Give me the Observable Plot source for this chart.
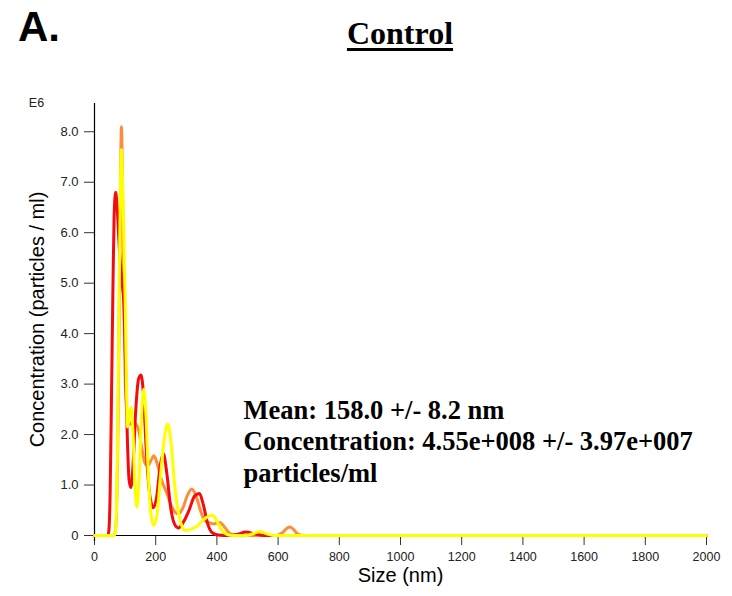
<!DOCTYPE html>
<html>
<head>
<meta charset="utf-8">
<script src="https://cdn.jsdelivr.net/npm/d3@7"></script>
<script src="https://cdn.jsdelivr.net/npm/@observablehq/plot@0.6"></script>
<style>
  html, body { margin: 0; padding: 0; background: #fff; }
  #wrap { width: 732px; height: 596px; position: relative; overflow: hidden; }
  #hdr { position: relative; height: 80px; }
  #panel { position: absolute; left: 18px; top: 7px; font: bold 40px/40px "Liberation Sans", Arial, sans-serif; color: #000; transform: scale(1.05, 1.08); transform-origin: left bottom; }
  #title { position: absolute; left: 0; width: 800px; top: 17px; text-align: center; font: bold 32px/32px "Liberation Serif", "Times New Roman", serif; color: #000; }
  #title span { text-decoration: underline; text-decoration-thickness: 3px; text-underline-offset: 4px; }
  svg { display: block; }
</style>
</head>
<body>
<div id="wrap">
  <div id="hdr">
    <div id="panel">A.</div>
    <div id="title"><span>Control</span></div>
  </div>
  <div id="chart"></div>
</div>
<script>
// ---- data (size in nm, concentration in E6 particles/ml) ----
const redSize   = [0, 44, 47, 51, 55, 60, 64, 69, 74, 82, 90, 96, 101, 107, 113, 119, 126, 134, 144, 152, 160, 170, 182, 193, 204, 214, 225, 236, 249, 262, 274, 289, 309, 327, 343, 356, 369, 384, 404, 434, 465, 495, 525, 555, 2000];
const redConc   = [0, 0, 0.1, 0.8, 2.5, 4.8, 6.3, 6.8, 6.5, 5.6, 5.0, 4.6, 3.5, 2.0, 1.1, 0.95, 1.4, 2.4, 3.1, 3.18, 2.8, 1.6, 0.75, 0.55, 0.8, 1.35, 1.62, 1.25, 0.55, 0.22, 0.15, 0.25, 0.5, 0.78, 0.83, 0.6, 0.25, 0.06, 0.01, 0, 0.02, 0.07, 0.03, 0, 0];

const orangeSize = [0, 64, 70, 76, 81, 85, 88, 91, 95, 100, 106, 114, 124, 134, 144, 154, 164, 174, 184, 194, 206, 219, 237, 254, 274, 289, 304, 318, 332, 346, 360, 372, 389, 410, 426, 439, 454, 474, 595, 615, 630, 639, 650, 665, 685, 2000];
const orangeConc = [0, 0, 0.2, 1.8, 4.5, 7.0, 8.1, 7.2, 5.0, 3.2, 2.4, 2.2, 2.25, 2.22, 2.1, 1.75, 1.45, 1.38, 1.48, 1.58, 1.4, 1.1, 0.83, 0.55, 0.43, 0.55, 0.8, 0.92, 0.78, 0.5, 0.3, 0.26, 0.23, 0.26, 0.16, 0.06, 0.01, 0, 0, 0.06, 0.15, 0.17, 0.12, 0.03, 0, 0];

const yellowSize = [0, 66, 70, 74, 78, 82, 85, 88, 92, 97, 101, 105, 108, 113, 120, 126, 132, 139, 146, 154, 161, 168, 176, 184, 193, 204, 216, 229, 239, 250, 262, 274, 286, 296, 314, 334, 354, 372, 387, 399, 414, 434, 454, 495, 520, 541, 560, 585, 2000];
const yellowConc = [0, 0, 0.2, 1.2, 3.2, 5.5, 7.0, 7.65, 7.0, 5.6, 4.4, 2.8, 2.15, 2.35, 2.54, 2.0, 1.0, 0.56, 1.2, 2.4, 2.9, 2.4, 1.2, 0.45, 0.2, 0.4, 1.2, 1.95, 2.21, 1.85, 1.0, 0.45, 0.18, 0.1, 0.12, 0.18, 0.3, 0.38, 0.4, 0.3, 0.12, 0.02, 0, 0, 0.04, 0.08, 0.04, 0, 0];

const xTicks = [0, 200, 400, 600, 800, 1000, 1200, 1400, 1600, 1800, 2000];
const yTicks = [0, 1, 2, 3, 4, 5, 6, 7, 8];
const yTickLabels = ["0", "1.0", "2.0", "3.0", "4.0", "5.0", "6.0", "7.0", "8.0"];

const xLabel = "Size (nm)";
const yLabel = "Concentration (particles / ml)";
const yUnit = "E6";
const statsLines = ["Mean: 158.0 +/- 8.2 nm", "Concentration: 4.55e+008 +/- 3.97e+007", "particles/ml"];

// ---- build tables ----
const toRows = (xs, ys) => xs.map((x, i) => ({size: x, conc: ys[i]}));
const red = toRows(redSize, redConc);
const orange = toRows(orangeSize, orangeConc);
const yellow = toRows(yellowSize, yellowConc);

const sans = "'Liberation Sans', Arial, sans-serif";

const chart = Plot.plot({
  width: 732,
  height: 516,
  marginLeft: 94,
  marginRight: 26,
  marginTop: 23,
  marginBottom: 61,
  style: {fontFamily: sans, background: "#fff", color: "#000"},
  x: {domain: [0, 2000]},
  y: {domain: [0, 8.56]},
  marks: [
    Plot.axisX({ticks: xTicks, tickSize: 10, tickPadding: 7, fontSize: 12.5, label: null, stroke: "#333", fill: "#222",
                tickFormat: d => String(d)}),
    Plot.axisY({ticks: yTicks, tickSize: 10, tickPadding: 6, fontSize: 13, label: null, stroke: "#333", fill: "#222",
                tickFormat: d => yTickLabels[yTicks.indexOf(d)]}),
    Plot.ruleX([0], {stroke: "#000", strokeWidth: 1.2, insetBottom: -6}),
    Plot.ruleY([0], {stroke: "#000", strokeWidth: 1}),
    Plot.line(orange, {x: "size", y: "conc", stroke: "#ff8c38", strokeWidth: 3, curve: "monotone-x"}),
    Plot.line(red, {x: "size", y: "conc", stroke: "#f20c0c", strokeWidth: 3, curve: "monotone-x"}),
    Plot.line(yellow, {x: "size", y: "conc", stroke: "#ffff00", strokeWidth: 3, curve: "monotone-x"}),
    Plot.text([statsLines.join("\n")], {frameAnchor: "top-left", textAnchor: "start", lineAnchor: "top",
               dx: 149, dy: 293, fontSize: 26.5, fontWeight: "bold", lineHeight: 1.19,
               fontFamily: "'Liberation Serif', 'Times New Roman', serif", fill: "#000"}),
    Plot.text([xLabel], {frameAnchor: "bottom", textAnchor: "middle", dy: 46, fontSize: 20, fill: "#000"}),
    Plot.text([yLabel], {frameAnchor: "left", textAnchor: "middle", rotate: -90, dx: -57, fontSize: 20, fill: "#000"}),
    Plot.text([yUnit], {frameAnchor: "top-left", textAnchor: "middle", dx: -58, dy: -5, fontSize: 12.5, fill: "#222"})
  ]
});
document.getElementById("chart").appendChild(chart);
</script>
</body>
</html>
